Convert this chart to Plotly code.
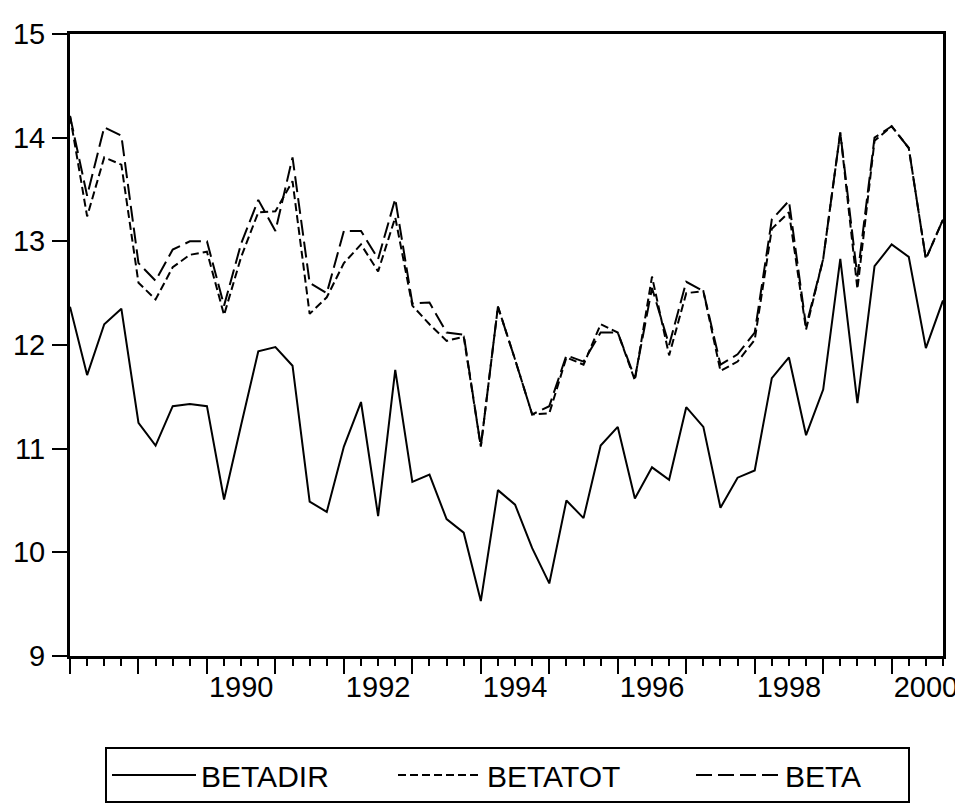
import pandas as pd
import plotly.graph_objects as go

# Quarterly periods 1988Q1 - 2000Q4
periods = pd.period_range("1988Q1", "2000Q4", freq="Q")
x_vals = [p.year + (p.quarter - 1) / 4 for p in periods]

betadir = [12.37, 11.71, 12.20, 12.35, 11.25, 11.03, 11.41, 11.43, 11.41, 10.51,
           11.23, 11.94, 11.98, 11.80, 10.49, 10.39, 11.02, 11.45, 10.35, 11.76,
           10.68, 10.75, 10.32, 10.19, 9.53, 10.60, 10.46, 10.04, 9.70, 10.50,
           10.33, 11.03, 11.21, 10.52, 10.82, 10.70, 11.40, 11.21, 10.43, 10.72,
           10.79, 11.68, 11.88, 11.13, 11.57, 12.83, 11.44, 12.76, 12.97, 12.85,
           11.97, 12.43]

betatot = [14.21, 13.24, 13.81, 13.74, 12.60, 12.44, 12.75, 12.87, 12.90, 12.29,
           12.85, 13.28, 13.29, 13.58, 12.30, 12.46, 12.79, 12.97, 12.71, 13.23,
           12.38, 12.20, 12.04, 12.08, 11.02, 12.37, 11.86, 11.33, 11.34, 11.88,
           11.81, 12.20, 12.12, 11.66, 12.66, 11.90, 12.50, 12.52, 11.75, 11.84,
           12.05, 13.12, 13.28, 12.15, 12.83, 14.05, 12.54, 13.97, 14.11, 13.90,
           12.83, 13.21]

beta = [14.21, 13.44, 14.10, 14.02, 12.79, 12.62, 12.92, 13.00, 13.00, 12.38,
        12.98, 13.40, 13.10, 13.81, 12.60, 12.50, 13.10, 13.10, 12.83, 13.41,
        12.40, 12.41, 12.12, 12.10, 11.02, 12.37, 11.86, 11.33, 11.41, 11.90,
        11.84, 12.12, 12.12, 11.68, 12.55, 12.00, 12.61, 12.52, 11.81, 11.91,
        12.12, 13.21, 13.39, 12.18, 12.83, 14.05, 12.66, 14.00, 14.11, 13.90,
        12.83, 13.21]

years = list(range(1988, 2001))
label_years = [1990, 1992, 1994, 1996, 1998, 2000]
y_ticks = [9, 10, 11, 12, 13, 14, 15]

FONT = "Liberation Sans, Arial, sans-serif"

fig = go.Figure()
fig.add_trace(go.Scatter(x=x_vals, y=betadir, mode="lines", name="BETADIR",
                         line=dict(color="black", width=2), legendwidth=187))
fig.add_trace(go.Scatter(x=x_vals, y=betatot, mode="lines", name="BETATOT",
                         line=dict(color="black", width=2, dash="8px,4px"),
                         legendwidth=199))
fig.add_trace(go.Scatter(x=x_vals, y=beta, mode="lines", name="BETA",
                         line=dict(color="black", width=2, dash="16px,6px"),
                         legendwidth=118))
# invisible trace on second x axis to carry the year labels
fig.add_trace(go.Scatter(x=[x_vals[0], x_vals[-1]], y=[beta[0], beta[-1]], mode="none",
                         xaxis="x2", showlegend=False, hoverinfo="skip"))

# page body has an 8px margin, so the figure is offset by 8px in the window
fig.update_layout(
    width=955, height=795,
    margin=dict(l=62, r=20, t=26, b=147, autoexpand=False),
    plot_bgcolor="white", paper_bgcolor="white",
    font=dict(family=FONT, size=29, color="black"),
    xaxis=dict(
        range=[1988, 2000.75], automargin=False,
        tickmode="array", tickvals=years, ticktext=["" for _ in years],
        ticks="outside", ticklen=15, tickwidth=2, tickcolor="black",
        minor=dict(dtick=0.25, tick0=1988, ticks="outside", ticklen=7,
                   tickwidth=2, tickcolor="black"),
        showgrid=False, zeroline=False,
        showline=True, linewidth=3, linecolor="black", mirror=True,
    ),
    xaxis2=dict(
        overlaying="x", matches="x", side="bottom", anchor="y", automargin=False,
        tickmode="array", tickvals=[y + 0.5 for y in label_years],
        ticktext=[str(y) for y in label_years],
        ticks="", ticklen=0, showline=False, showgrid=False, zeroline=False,
        ticklabelstandoff=11,
        tickfont=dict(family=FONT, size=29, color="black"),
    ),
    yaxis=dict(
        range=[9, 15], tickmode="array", tickvals=y_ticks, automargin=False,
        ticks="outside", ticklen=15, tickwidth=2, tickcolor="black",
        showgrid=False, zeroline=False,
        showline=True, linewidth=3, linecolor="black", mirror=True,
        ticklabelstandoff=1,
        tickfont=dict(family=FONT, size=29, color="black"),
    ),
    legend=dict(
        orientation="h", x=(105 - 70) / 873, xanchor="left",
        y=-(747 - 656) / 622, yanchor="top",
        bordercolor="black", borderwidth=2, bgcolor="white",
        font=dict(family=FONT, size=30, color="black"),
        entrywidthmode="pixels",
        itemwidth=84,
    ),
    showlegend=True,
)

fig.write_html("out.html")
